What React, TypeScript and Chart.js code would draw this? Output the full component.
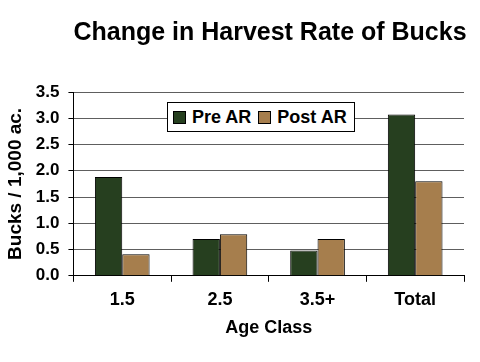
import React, { useEffect, useRef } from "react";
import { Chart, registerables } from "chart.js";

Chart.register(...registerables);

const categories = ["1.5", "2.5", "3.5+", "Total"];
const preAR = [1.88, 0.7, 0.48, 3.07];
const postAR = [0.41, 0.79, 0.7, 1.8];
const yTicks = [0, 0.5, 1.0, 1.5, 2.0, 2.5, 3.0, 3.5];
const titleText = "Change in Harvest Rate of Bucks";
const xTitle = "Age Class";
const yTitle = "Bucks / 1,000 ac.";
const seriesNames = ["Pre AR", "Post AR"];
const colors = ["#263f1f", "#a67e4d"];

export default function App() {
  const ref = useRef<HTMLCanvasElement | null>(null);
  useEffect(() => {
    if (!ref.current) return;
    const font = "Arial, 'Liberation Sans', sans-serif";
    const chart = new Chart(ref.current, {
      type: "bar",
      data: {
        labels: categories,
        datasets: [
          {
            label: seriesNames[0],
            data: preAR,
            backgroundColor: colors[0],
            borderColor: "#000",
            borderWidth: 1,
          },
          {
            label: seriesNames[1],
            data: postAR,
            backgroundColor: colors[1],
            borderColor: "#000",
            borderWidth: 1,
          },
        ],
      },
      options: {
        animation: false,
        responsive: true,
        maintainAspectRatio: false,
        layout: { padding: { top: 92, right: 16, left: 4, bottom: 23 } },
        plugins: {
          legend: { display: false },
          title: { display: false },
          tooltip: { enabled: false },
        },
        datasets: { bar: { categoryPercentage: 0.56, barPercentage: 1 } },
        scales: {
          x: {
            grid: {
              display: true,
              drawOnChartArea: true,
              color: (c: any) => (c.index === categories.length ? "#000" : "rgba(0,0,0,0)"),
              tickColor: "#000",
              tickLength: 6,
              lineWidth: 1,
            },
            border: { color: "#000", width: 1 },
            ticks: { color: "#000", font: { family: font, size: 18, weight: "bold" }, padding: 7 },
            title: {
              display: true,
              text: xTitle,
              color: "#000",
              font: { family: font, size: 18, weight: "bold" },
              padding: { top: 0, bottom: 0 },
            },
          },
          y: {
            min: 0,
            max: 3.5,
            afterBuildTicks: (axis: any) => {
              axis.ticks = yTicks.map((v) => ({ value: v }));
            },
            grid: { color: "#5e5e5e", tickColor: "#000", tickLength: 5, lineWidth: 1 },
            border: { color: "#000", width: 1 },
            ticks: {
              color: "#000",
              font: { family: font, size: 17, weight: "bold" },
              padding: 9,
              callback: (v: any) => Number(v).toFixed(1),
            },
            title: {
              display: true,
              text: yTitle,
              color: "#000",
              font: { family: font, size: 19, weight: "bold" },
              padding: { top: 0, bottom: 0 },
            },
          },
        },
      },
    });
    return () => chart.destroy();
  }, []);

  const font = "Arial, 'Liberation Sans', sans-serif";
  return (
    <div style={{ position: "absolute", left: 0, top: 0, width: 480, height: 362, background: "#fff", fontFamily: font }}>
      <canvas ref={ref} />
      <div
        style={{
          position: "absolute",
          left: 30,
          width: 480,
          top: 17,
          textAlign: "center",
          fontSize: 25,
          fontWeight: "bold",
          color: "#000",
          whiteSpace: "nowrap",
        }}
      >
        {titleText}
      </div>
      <div
        style={{
          position: "absolute",
          left: 167,
          top: 102,
          width: 186,
          height: 28,
          border: "1px solid #000",
          background: "#fff",
          display: "flex",
          alignItems: "center",
          boxSizing: "content-box",
        }}
      >
        {seriesNames.map((n, i) => (
          <div key={n} style={{ display: "flex", alignItems: "center", marginLeft: i === 0 ? 5 : 7 }}>
            <span
              style={{
                display: "inline-block",
                width: 11,
                height: 11,
                background: colors[i],
                border: "1px solid #000",
                marginRight: 6,
              }}
            />
            <span style={{ fontSize: 18, fontWeight: "bold", color: "#000" }}>{n}</span>
          </div>
        ))}
      </div>
    </div>
  );
}
